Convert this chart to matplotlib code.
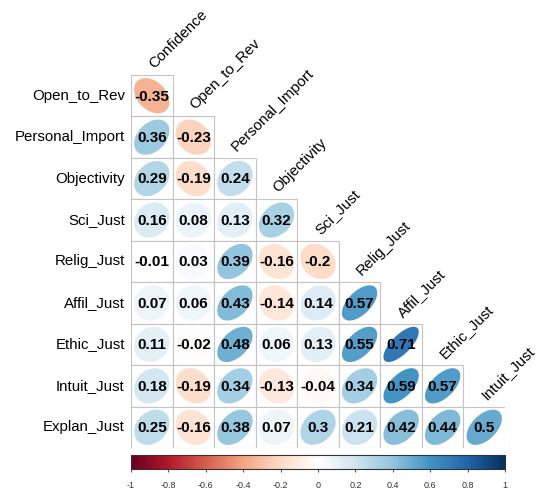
import numpy as np
import matplotlib
matplotlib.use("Agg")
import matplotlib.pyplot as plt
from matplotlib.colors import LinearSegmentedColormap, Normalize
from matplotlib.patches import Polygon, Rectangle
from matplotlib.cm import ScalarMappable

plt.rcParams['font.family'] = ['Liberation Sans', 'DejaVu Sans']

row_labels = ["Open_to_Rev", "Personal_Import", "Objectivity", "Sci_Just", "Relig_Just",
              "Affil_Just", "Ethic_Just", "Intuit_Just", "Explan_Just"]
col_labels = ["Confidence", "Open_to_Rev", "Personal_Import", "Objectivity", "Sci_Just",
              "Relig_Just", "Affil_Just", "Ethic_Just", "Intuit_Just"]

r_open = [-0.35]
r_pers = [0.36, -0.23]
r_obj = [0.29, -0.19, 0.24]
r_sci = [0.16, 0.08, 0.13, 0.32]
r_relig = [-0.01, 0.03, 0.39, -0.16, -0.2]
r_affil = [0.07, 0.06, 0.43, -0.14, 0.14, 0.57]
r_ethic = [0.11, -0.02, 0.48, 0.06, 0.13, 0.55, 0.71]
r_intuit = [0.18, -0.19, 0.34, -0.13, -0.04, 0.34, 0.59, 0.57]
r_explan = [0.25, -0.16, 0.38, 0.07, 0.3, 0.21, 0.42, 0.44, 0.5]
rows = [r_open, r_pers, r_obj, r_sci, r_relig, r_affil, r_ethic, r_intuit, r_explan]

cbar_ticks = [-1, -0.8, -0.6, -0.4, -0.2, 0, 0.2, 0.4, 0.6, 0.8, 1]
cbar_ticklabels = ["-1", "-0.8", "-0.6", "-0.4", "-0.2", "0", "0.2", "0.4", "0.6", "0.8", "1"]

cmap = LinearSegmentedColormap.from_list(
    "corrRdBu", ["#67001F", "#B2182B", "#D6604D", "#F4A582", "#FDDBC7", "#FFFFFF",
                 "#D1E5F0", "#92C5DE", "#4393C3", "#2166AC", "#053061"], N=200)
norm = Normalize(-1, 1)

W, H = 538, 493
fig = plt.figure(figsize=(W / 100, H / 100), dpi=100)
x0, x1, y0, y1 = 131, 505, 75, 448
ax = fig.add_axes([x0 / W, 1 - y1 / H, (x1 - x0) / W, (y1 - y0) / H])
n = len(row_labels)
ax.set_xlim(0, n)
ax.set_ylim(n, 0)
ax.axis('off')

k = np.linspace(0, 2 * np.pi, 99)
for i, vals in enumerate(rows):
    for j, r in enumerate(vals):
        ax.add_patch(Rectangle((j, i), 1, 1, facecolor='white', edgecolor='#C4C4C4',
                               linewidth=0.8, zorder=1))
        a = np.arccos(r)
        ex = 0.85 * np.cos(k + a / 2) / 2 + j + 0.5
        ey = -0.85 * np.cos(k - a / 2) / 2 + i + 0.5
        ax.add_patch(Polygon(np.column_stack([ex, ey]), closed=True,
                             facecolor=cmap(norm(r)), edgecolor='none', zorder=2))
        ax.text(j + 0.5, i + 0.52, f"{r:g}", ha='center', va='center',
                fontsize=11, fontweight='bold', color='black', zorder=3)

for i, lab in enumerate(row_labels):
    ax.text(-0.15, i + 0.5, lab, ha='right', va='center', fontsize=10.8, color='black',
            clip_on=False)

for j, lab in enumerate(col_labels):
    ax.text(j + 0.6, j - 0.1, lab, ha='left', va='bottom', rotation=45,
            rotation_mode='anchor', fontsize=10.8, color='black', clip_on=False)

cax = fig.add_axes([131 / W, 1 - 469 / H, 374 / W, 14 / H])
sm = ScalarMappable(norm=norm, cmap=cmap)
cb = fig.colorbar(sm, cax=cax, orientation='horizontal', ticks=cbar_ticks)
cb.ax.set_xticklabels(cbar_ticklabels)
cb.ax.tick_params(labelsize=6.5, length=2.5, width=0.6, pad=6, colors='#333333')
cb.outline.set_linewidth(0.8)
cb.outline.set_edgecolor('#333333')

fig.savefig("out.png", dpi=100)
